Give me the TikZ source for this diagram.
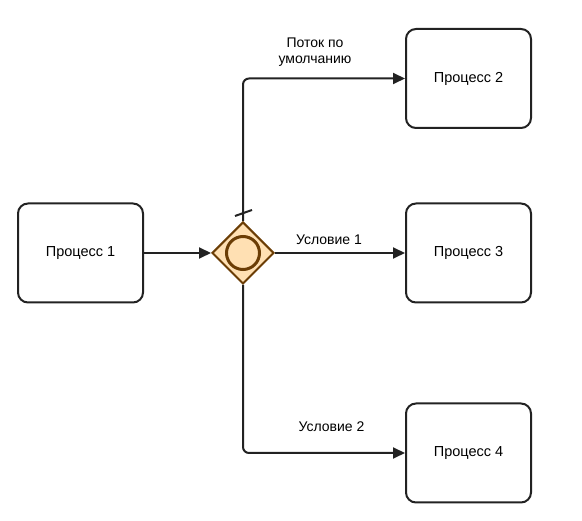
\documentclass[tikz,border=0pt]{standalone}
\usepackage{fontspec}
\setmainfont{Liberation Sans}
\usetikzlibrary{shapes.geometric,arrows.meta}
\definecolor{linec}{HTML}{222222}
\definecolor{gwfill}{HTML}{FFE0B3}
\definecolor{gwdraw}{HTML}{6B3D05}
\tikzset{
  proc/.style={draw=linec, line width=2pt, rounded corners=10pt, fill=white,
    minimum width=125pt, minimum height=99pt, inner sep=0pt, font=\fontsize{14.5}{17}\selectfont},
  flow/.style={draw=linec, line width=2pt, rounded corners=6pt,
    -{Triangle[length=12pt,width=11pt]}},
  lbl/.style={font=\fontsize{14}{16.5}\selectfont, align=center, inner sep=0pt},
  gw/.style={diamond, draw=gwdraw, fill=gwfill, line width=2pt, minimum width=62pt, minimum height=62pt, inner sep=0pt}
}
\begin{document}
\begin{tikzpicture}[x=1pt,y=-1pt]
\useasboundingbox (0,0) rectangle (582,521);
\node[proc] (p1) at (80.5,253) {Процесс 1};
\node[proc] (p2) at (468.5,78.5) {Процесс 2};
\node[proc] (p3) at (468.5,253) {Процесс 3};
\node[proc] (p4) at (468.5,453) {Процесс 4};
\node[gw] (g) at (243,253) {};
\node[circle, draw=gwdraw, line width=3pt, minimum size=33pt, inner sep=0pt] (gc) at (g.center) {};
\draw[flow] (p1.east) -- (g.west);
\draw[flow] (g.north) |- (p2.west);
\draw[flow] (g.east) -- (p3.west);
\draw[flow] (g.south) |- (p4.west);
\coordinate (d1) at (235,216);
\coordinate (d2) at (252,210);
\draw[draw=linec, line width=2pt] (d1) -- (d2);
\node[lbl] (l0) at (315,52) {Поток по\\умолчанию};
\node[lbl] (l1) at (329,240) {Условие 1};
\node[lbl] (l2) at (331.5,427) {Условие 2};
\end{tikzpicture}
\end{document}
